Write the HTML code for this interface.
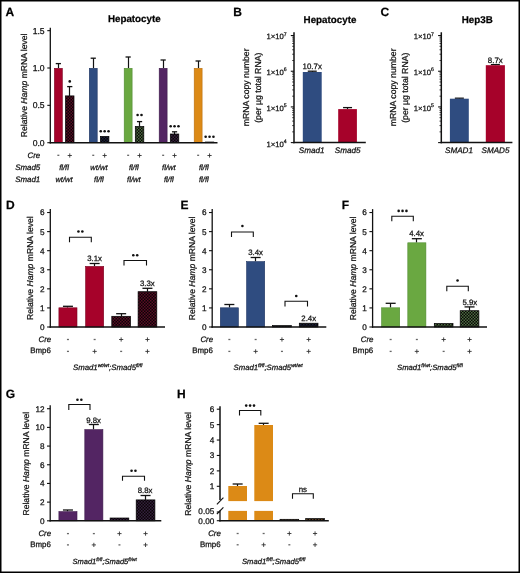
<!DOCTYPE html>
<html><head><meta charset="utf-8"><style>
html,body{margin:0;padding:0;background:#fff;}
svg{display:block;font-family:"Liberation Sans", sans-serif;font-variant-ligatures:none;will-change:transform;}
#w{width:520px;height:573px;overflow:hidden;}
text{stroke:#111;stroke-width:0.25px;text-rendering:geometricPrecision;}
tspan.s{stroke-width:0;}
</style></head><body><div id="w">
<svg width="520" height="573" viewBox="0 0 520 573">
<rect width="520" height="573" fill="#fff"/>
<defs>
<pattern id="hred" width="3" height="3" patternUnits="userSpaceOnUse"><rect width="3" height="3" fill="#0a0406"/><rect x="0" y="0" width="1.5" height="1.5" fill="#5a0c24"/><rect x="1.5" y="1.5" width="1.5" height="1.5" fill="#5a0c24"/></pattern>
<pattern id="hblue" width="3" height="3" patternUnits="userSpaceOnUse"><rect width="3" height="3" fill="#0a0406"/><rect x="0" y="0" width="1.5" height="1.5" fill="#16203a"/><rect x="1.5" y="1.5" width="1.5" height="1.5" fill="#16203a"/></pattern>
<pattern id="hgreen" width="3" height="3" patternUnits="userSpaceOnUse"><rect width="3" height="3" fill="#0a0406"/><rect x="0" y="0" width="1.5" height="1.5" fill="#4a6e40"/><rect x="1.5" y="1.5" width="1.5" height="1.5" fill="#4a6e40"/></pattern>
<pattern id="hpurple" width="3" height="3" patternUnits="userSpaceOnUse"><rect width="3" height="3" fill="#0a0406"/><rect x="0" y="0" width="1.5" height="1.5" fill="#33203e"/><rect x="1.5" y="1.5" width="1.5" height="1.5" fill="#33203e"/></pattern>
<pattern id="horange" width="3" height="3" patternUnits="userSpaceOnUse"><rect width="3" height="3" fill="#0a0406"/><rect x="0" y="0" width="1.5" height="1.5" fill="#5a4020"/><rect x="1.5" y="1.5" width="1.5" height="1.5" fill="#5a4020"/></pattern>
</defs>
<rect x="0.75" y="0.75" width="518.5" height="571.5" fill="none" stroke="#000" stroke-width="1.5"/>
<text x="5.50" y="15.70" font-size="12" text-anchor="start" font-weight="bold" font-style="normal" fill="#000" >A</text>
<text x="233.30" y="15.70" font-size="12" text-anchor="start" font-weight="bold" font-style="normal" fill="#000" >B</text>
<text x="380.50" y="15.60" font-size="12" text-anchor="start" font-weight="bold" font-style="normal" fill="#000" >C</text>
<text x="6.10" y="208.80" font-size="12" text-anchor="start" font-weight="bold" font-style="normal" fill="#000" >D</text>
<text x="180.40" y="208.80" font-size="12" text-anchor="start" font-weight="bold" font-style="normal" fill="#000" >E</text>
<text x="341.80" y="208.90" font-size="12" text-anchor="start" font-weight="bold" font-style="normal" fill="#000" >F</text>
<text x="5.80" y="397.60" font-size="12" text-anchor="start" font-weight="bold" font-style="normal" fill="#000" >G</text>
<text x="177.00" y="398.20" font-size="12" text-anchor="start" font-weight="bold" font-style="normal" fill="#000" >H</text>
<text x="134.30" y="22.40" font-size="9.8" text-anchor="middle" font-weight="bold" font-style="normal" fill="#000" >Hepatocyte</text>
<line x1="50.30" y1="27.75" x2="50.30" y2="143.40" stroke="#111" stroke-width="1.3"/>
<line x1="47.30" y1="142.70" x2="50.30" y2="142.70" stroke="#111" stroke-width="1.1"/>
<text x="44.60" y="145.80" font-size="8.6" text-anchor="end" font-weight="normal" font-style="normal" fill="#111" >0.0</text>
<line x1="47.30" y1="105.35" x2="50.30" y2="105.35" stroke="#111" stroke-width="1.1"/>
<text x="44.60" y="108.45" font-size="8.6" text-anchor="end" font-weight="normal" font-style="normal" fill="#111" >0.5</text>
<line x1="47.30" y1="68.00" x2="50.30" y2="68.00" stroke="#111" stroke-width="1.1"/>
<text x="44.60" y="71.10" font-size="8.6" text-anchor="end" font-weight="normal" font-style="normal" fill="#111" >1.0</text>
<line x1="47.30" y1="30.65" x2="50.30" y2="30.65" stroke="#111" stroke-width="1.1"/>
<text x="44.60" y="33.75" font-size="8.6" text-anchor="end" font-weight="normal" font-style="normal" fill="#111" >1.5</text>
<text transform="translate(27.00,85.30) rotate(-90)" font-size="8.6" text-anchor="middle" fill="#111">Relative <tspan font-style="italic">Hamp</tspan> mRNA level</text>
<line x1="58.50" y1="68.00" x2="58.50" y2="63.60" stroke="#111" stroke-width="1.2"/>
<line x1="55.75" y1="63.60" x2="60.95" y2="63.60" stroke="#111" stroke-width="1.3"/>
<rect x="54.40" y="68.30" width="7.90" height="74.40" fill="#a6022a" stroke="#7a0420" stroke-width="0.6"/>
<line x1="69.50" y1="95.90" x2="69.50" y2="86.60" stroke="#111" stroke-width="1.2"/>
<line x1="67.15" y1="86.60" x2="72.35" y2="86.60" stroke="#111" stroke-width="1.3"/>
<rect x="65.50" y="95.90" width="8.50" height="46.80" fill="url(#hred)" stroke="#000" stroke-width="0.7"/>
<circle cx="69.75" cy="81.40" r="1.3" fill="#111"/>
<line x1="93.50" y1="68.00" x2="93.50" y2="58.20" stroke="#111" stroke-width="1.2"/>
<line x1="90.65" y1="58.20" x2="95.85" y2="58.20" stroke="#111" stroke-width="1.3"/>
<rect x="89.30" y="68.30" width="7.90" height="74.40" fill="#2f4c80" stroke="#1f3562" stroke-width="0.6"/>
<rect x="100.40" y="136.40" width="8.50" height="6.30" fill="url(#hblue)" stroke="#000" stroke-width="0.7"/>
<circle cx="100.75" cy="131.20" r="1.3" fill="#111"/>
<circle cx="104.65" cy="131.20" r="1.3" fill="#111"/>
<circle cx="108.55" cy="131.20" r="1.3" fill="#111"/>
<line x1="128.50" y1="68.00" x2="128.50" y2="57.00" stroke="#111" stroke-width="1.2"/>
<line x1="125.55" y1="57.00" x2="130.75" y2="57.00" stroke="#111" stroke-width="1.3"/>
<rect x="124.20" y="68.30" width="7.90" height="74.40" fill="#6aa841" stroke="#4f8a30" stroke-width="0.6"/>
<line x1="139.50" y1="126.50" x2="139.50" y2="121.60" stroke="#111" stroke-width="1.2"/>
<line x1="136.95" y1="121.60" x2="142.15" y2="121.60" stroke="#111" stroke-width="1.3"/>
<rect x="135.30" y="126.50" width="8.50" height="16.20" fill="url(#hgreen)" stroke="#000" stroke-width="0.7"/>
<circle cx="137.60" cy="115.00" r="1.3" fill="#111"/>
<circle cx="141.50" cy="115.00" r="1.3" fill="#111"/>
<line x1="163.50" y1="68.00" x2="163.50" y2="60.00" stroke="#111" stroke-width="1.2"/>
<line x1="160.55" y1="60.00" x2="165.75" y2="60.00" stroke="#111" stroke-width="1.3"/>
<rect x="159.20" y="68.30" width="7.90" height="74.40" fill="#532563" stroke="#3c1a4a" stroke-width="0.6"/>
<line x1="174.50" y1="134.00" x2="174.50" y2="131.80" stroke="#111" stroke-width="1.2"/>
<line x1="171.95" y1="131.80" x2="177.15" y2="131.80" stroke="#111" stroke-width="1.3"/>
<rect x="170.30" y="134.00" width="8.50" height="8.70" fill="url(#hpurple)" stroke="#000" stroke-width="0.7"/>
<circle cx="170.65" cy="126.20" r="1.3" fill="#111"/>
<circle cx="174.55" cy="126.20" r="1.3" fill="#111"/>
<circle cx="178.45" cy="126.20" r="1.3" fill="#111"/>
<line x1="198.50" y1="68.00" x2="198.50" y2="61.00" stroke="#111" stroke-width="1.2"/>
<line x1="195.55" y1="61.00" x2="200.75" y2="61.00" stroke="#111" stroke-width="1.3"/>
<rect x="194.20" y="68.30" width="7.90" height="74.40" fill="#dc8a16" stroke="#b86e10" stroke-width="0.6"/>
<rect x="205.30" y="142.00" width="8.50" height="0.70" fill="url(#horange)" stroke="#000" stroke-width="0.7"/>
<circle cx="205.65" cy="136.80" r="1.3" fill="#111"/>
<circle cx="209.55" cy="136.80" r="1.3" fill="#111"/>
<circle cx="213.45" cy="136.80" r="1.3" fill="#111"/>
<line x1="49.70" y1="142.70" x2="217.50" y2="142.70" stroke="#111" stroke-width="1.5"/>
<text x="40.20" y="158.10" font-size="7.9" text-anchor="end" font-weight="normal" font-style="italic" fill="#111" >Cre</text>
<text x="40.20" y="169.80" font-size="7.9" text-anchor="end" font-weight="normal" font-style="italic" fill="#111" >Smad5</text>
<text x="40.20" y="181.80" font-size="7.9" text-anchor="end" font-weight="normal" font-style="italic" fill="#111" >Smad1</text>
<rect x="57.35" y="154.65" width="2.0" height="1.3" fill="#666"/>
<path d="M67.65 155.50H71.85M69.75 153.40V157.60" stroke="#333" stroke-width="0.9" fill="none"/>
<text x="64.05" y="169.80" font-size="7.6" text-anchor="middle" font-weight="normal" font-style="italic" fill="#111" >fl/fl</text>
<text x="64.05" y="181.80" font-size="7.6" text-anchor="middle" font-weight="normal" font-style="italic" fill="#111" >wt/wt</text>
<rect x="92.25" y="154.65" width="2.0" height="1.3" fill="#666"/>
<path d="M102.55 155.50H106.75M104.65 153.40V157.60" stroke="#333" stroke-width="0.9" fill="none"/>
<text x="98.95" y="169.80" font-size="7.6" text-anchor="middle" font-weight="normal" font-style="italic" fill="#111" >wt/wt</text>
<text x="98.95" y="181.80" font-size="7.6" text-anchor="middle" font-weight="normal" font-style="italic" fill="#111" >fl/fl</text>
<rect x="127.15" y="154.65" width="2.0" height="1.3" fill="#666"/>
<path d="M137.45 155.50H141.65M139.55 153.40V157.60" stroke="#333" stroke-width="0.9" fill="none"/>
<text x="133.85" y="169.80" font-size="7.6" text-anchor="middle" font-weight="normal" font-style="italic" fill="#111" >fl/fl</text>
<text x="133.85" y="181.80" font-size="7.6" text-anchor="middle" font-weight="normal" font-style="italic" fill="#111" >fl/wt</text>
<rect x="162.15" y="154.65" width="2.0" height="1.3" fill="#666"/>
<path d="M172.45 155.50H176.65M174.55 153.40V157.60" stroke="#333" stroke-width="0.9" fill="none"/>
<text x="168.85" y="169.80" font-size="7.6" text-anchor="middle" font-weight="normal" font-style="italic" fill="#111" >fl/wt</text>
<text x="168.85" y="181.80" font-size="7.6" text-anchor="middle" font-weight="normal" font-style="italic" fill="#111" >fl/fl</text>
<rect x="197.15" y="154.65" width="2.0" height="1.3" fill="#666"/>
<path d="M207.45 155.50H211.65M209.55 153.40V157.60" stroke="#333" stroke-width="0.9" fill="none"/>
<text x="203.85" y="169.80" font-size="7.6" text-anchor="middle" font-weight="normal" font-style="italic" fill="#111" >fl/fl</text>
<text x="203.85" y="181.80" font-size="7.6" text-anchor="middle" font-weight="normal" font-style="italic" fill="#111" >fl/fl</text>
<text x="330.00" y="22.80" font-size="9.8" text-anchor="middle" font-weight="bold" font-style="normal" fill="#000" >Hepatocyte</text>
<line x1="294.00" y1="32.26" x2="294.00" y2="143.30" stroke="#111" stroke-width="1.5"/>
<line x1="290.80" y1="142.60" x2="294.00" y2="142.60" stroke="#111" stroke-width="1.1"/>
<text x="286.70" y="146.50" font-size="7.7" text-anchor="end" fill="#111">1×10<tspan font-size="5.2" dy="-3.7">4</tspan></text>
<line x1="292.20" y1="131.86" x2="294.00" y2="131.86" stroke="#111" stroke-width="0.8"/>
<line x1="292.20" y1="125.58" x2="294.00" y2="125.58" stroke="#111" stroke-width="0.8"/>
<line x1="292.20" y1="121.12" x2="294.00" y2="121.12" stroke="#111" stroke-width="0.8"/>
<line x1="292.20" y1="117.66" x2="294.00" y2="117.66" stroke="#111" stroke-width="0.8"/>
<line x1="292.20" y1="114.84" x2="294.00" y2="114.84" stroke="#111" stroke-width="0.8"/>
<line x1="292.20" y1="112.45" x2="294.00" y2="112.45" stroke="#111" stroke-width="0.8"/>
<line x1="292.20" y1="110.38" x2="294.00" y2="110.38" stroke="#111" stroke-width="0.8"/>
<line x1="292.20" y1="108.55" x2="294.00" y2="108.55" stroke="#111" stroke-width="0.8"/>
<line x1="290.80" y1="106.92" x2="294.00" y2="106.92" stroke="#111" stroke-width="1.1"/>
<text x="286.70" y="110.82" font-size="7.7" text-anchor="end" fill="#111">1×10<tspan font-size="5.2" dy="-3.7">5</tspan></text>
<line x1="292.20" y1="96.18" x2="294.00" y2="96.18" stroke="#111" stroke-width="0.8"/>
<line x1="292.20" y1="89.90" x2="294.00" y2="89.90" stroke="#111" stroke-width="0.8"/>
<line x1="292.20" y1="85.44" x2="294.00" y2="85.44" stroke="#111" stroke-width="0.8"/>
<line x1="292.20" y1="81.98" x2="294.00" y2="81.98" stroke="#111" stroke-width="0.8"/>
<line x1="292.20" y1="79.16" x2="294.00" y2="79.16" stroke="#111" stroke-width="0.8"/>
<line x1="292.20" y1="76.77" x2="294.00" y2="76.77" stroke="#111" stroke-width="0.8"/>
<line x1="292.20" y1="74.70" x2="294.00" y2="74.70" stroke="#111" stroke-width="0.8"/>
<line x1="292.20" y1="72.87" x2="294.00" y2="72.87" stroke="#111" stroke-width="0.8"/>
<line x1="290.80" y1="71.24" x2="294.00" y2="71.24" stroke="#111" stroke-width="1.1"/>
<text x="286.70" y="75.14" font-size="7.7" text-anchor="end" fill="#111">1×10<tspan font-size="5.2" dy="-3.7">6</tspan></text>
<line x1="292.20" y1="60.50" x2="294.00" y2="60.50" stroke="#111" stroke-width="0.8"/>
<line x1="292.20" y1="54.22" x2="294.00" y2="54.22" stroke="#111" stroke-width="0.8"/>
<line x1="292.20" y1="49.76" x2="294.00" y2="49.76" stroke="#111" stroke-width="0.8"/>
<line x1="292.20" y1="46.30" x2="294.00" y2="46.30" stroke="#111" stroke-width="0.8"/>
<line x1="292.20" y1="43.48" x2="294.00" y2="43.48" stroke="#111" stroke-width="0.8"/>
<line x1="292.20" y1="41.09" x2="294.00" y2="41.09" stroke="#111" stroke-width="0.8"/>
<line x1="292.20" y1="39.02" x2="294.00" y2="39.02" stroke="#111" stroke-width="0.8"/>
<line x1="292.20" y1="37.19" x2="294.00" y2="37.19" stroke="#111" stroke-width="0.8"/>
<line x1="290.80" y1="35.56" x2="294.00" y2="35.56" stroke="#111" stroke-width="1.1"/>
<text x="286.70" y="39.46" font-size="7.7" text-anchor="end" fill="#111">1×10<tspan font-size="5.2" dy="-3.7">7</tspan></text>
<line x1="312.50" y1="72.00" x2="312.50" y2="71.20" stroke="#111" stroke-width="1.2"/>
<line x1="307.75" y1="71.20" x2="316.75" y2="71.20" stroke="#111" stroke-width="1.3"/>
<rect x="302.80" y="72.00" width="18.90" height="70.60" fill="#2f4c80"/>
<line x1="347.50" y1="109.10" x2="347.50" y2="107.60" stroke="#111" stroke-width="1.2"/>
<line x1="343.05" y1="107.60" x2="352.05" y2="107.60" stroke="#111" stroke-width="1.3"/>
<rect x="338.20" y="109.10" width="18.70" height="33.50" fill="#a6022a"/>
<line x1="293.30" y1="142.60" x2="365.80" y2="142.60" stroke="#111" stroke-width="1.5"/>
<text x="311.60" y="152.80" font-size="8.1" text-anchor="middle" font-weight="normal" font-style="italic" fill="#111" >Smad1</text>
<text x="347.60" y="152.80" font-size="8.1" text-anchor="middle" font-weight="normal" font-style="italic" fill="#111" >Smad5</text>
<text x="312.20" y="69.40" font-size="7.9" text-anchor="middle" font-weight="normal" font-style="normal" fill="#111" >10.7x</text>
<text transform="translate(248.95,87.35) rotate(-90)" font-size="8.7" text-anchor="middle" fill="#111"><tspan x="0" dy="0">mRNA copy number</tspan><tspan x="-0.4" dy="12.0">(per µg total RNA)</tspan></text>
<text x="477.30" y="22.80" font-size="9.8" text-anchor="middle" font-weight="bold" font-style="normal" fill="#000" >Hep3B</text>
<line x1="441.30" y1="32.26" x2="441.30" y2="143.30" stroke="#111" stroke-width="1.5"/>
<line x1="438.10" y1="142.60" x2="441.30" y2="142.60" stroke="#111" stroke-width="1.1"/>
<line x1="439.50" y1="131.86" x2="441.30" y2="131.86" stroke="#111" stroke-width="0.8"/>
<line x1="439.50" y1="125.58" x2="441.30" y2="125.58" stroke="#111" stroke-width="0.8"/>
<line x1="439.50" y1="121.12" x2="441.30" y2="121.12" stroke="#111" stroke-width="0.8"/>
<line x1="439.50" y1="117.66" x2="441.30" y2="117.66" stroke="#111" stroke-width="0.8"/>
<line x1="439.50" y1="114.84" x2="441.30" y2="114.84" stroke="#111" stroke-width="0.8"/>
<line x1="439.50" y1="112.45" x2="441.30" y2="112.45" stroke="#111" stroke-width="0.8"/>
<line x1="439.50" y1="110.38" x2="441.30" y2="110.38" stroke="#111" stroke-width="0.8"/>
<line x1="439.50" y1="108.55" x2="441.30" y2="108.55" stroke="#111" stroke-width="0.8"/>
<line x1="438.10" y1="106.92" x2="441.30" y2="106.92" stroke="#111" stroke-width="1.1"/>
<text x="434.00" y="110.82" font-size="7.7" text-anchor="end" fill="#111">1×10<tspan font-size="5.2" dy="-3.7">5</tspan></text>
<line x1="439.50" y1="96.18" x2="441.30" y2="96.18" stroke="#111" stroke-width="0.8"/>
<line x1="439.50" y1="89.90" x2="441.30" y2="89.90" stroke="#111" stroke-width="0.8"/>
<line x1="439.50" y1="85.44" x2="441.30" y2="85.44" stroke="#111" stroke-width="0.8"/>
<line x1="439.50" y1="81.98" x2="441.30" y2="81.98" stroke="#111" stroke-width="0.8"/>
<line x1="439.50" y1="79.16" x2="441.30" y2="79.16" stroke="#111" stroke-width="0.8"/>
<line x1="439.50" y1="76.77" x2="441.30" y2="76.77" stroke="#111" stroke-width="0.8"/>
<line x1="439.50" y1="74.70" x2="441.30" y2="74.70" stroke="#111" stroke-width="0.8"/>
<line x1="439.50" y1="72.87" x2="441.30" y2="72.87" stroke="#111" stroke-width="0.8"/>
<line x1="438.10" y1="71.24" x2="441.30" y2="71.24" stroke="#111" stroke-width="1.1"/>
<text x="434.00" y="75.14" font-size="7.7" text-anchor="end" fill="#111">1×10<tspan font-size="5.2" dy="-3.7">6</tspan></text>
<line x1="439.50" y1="60.50" x2="441.30" y2="60.50" stroke="#111" stroke-width="0.8"/>
<line x1="439.50" y1="54.22" x2="441.30" y2="54.22" stroke="#111" stroke-width="0.8"/>
<line x1="439.50" y1="49.76" x2="441.30" y2="49.76" stroke="#111" stroke-width="0.8"/>
<line x1="439.50" y1="46.30" x2="441.30" y2="46.30" stroke="#111" stroke-width="0.8"/>
<line x1="439.50" y1="43.48" x2="441.30" y2="43.48" stroke="#111" stroke-width="0.8"/>
<line x1="439.50" y1="41.09" x2="441.30" y2="41.09" stroke="#111" stroke-width="0.8"/>
<line x1="439.50" y1="39.02" x2="441.30" y2="39.02" stroke="#111" stroke-width="0.8"/>
<line x1="439.50" y1="37.19" x2="441.30" y2="37.19" stroke="#111" stroke-width="0.8"/>
<line x1="438.10" y1="35.56" x2="441.30" y2="35.56" stroke="#111" stroke-width="1.1"/>
<text x="434.00" y="39.46" font-size="7.7" text-anchor="end" fill="#111">1×10<tspan font-size="5.2" dy="-3.7">7</tspan></text>
<line x1="459.50" y1="98.70" x2="459.50" y2="98.20" stroke="#111" stroke-width="1.2"/>
<line x1="454.85" y1="98.20" x2="463.85" y2="98.20" stroke="#111" stroke-width="1.3"/>
<rect x="449.90" y="98.70" width="18.90" height="43.90" fill="#2f4c80"/>
<line x1="495.50" y1="65.20" x2="495.50" y2="64.60" stroke="#111" stroke-width="1.2"/>
<line x1="490.85" y1="64.60" x2="499.85" y2="64.60" stroke="#111" stroke-width="1.3"/>
<rect x="485.80" y="65.20" width="19.10" height="77.40" fill="#a6022a"/>
<line x1="440.60" y1="142.60" x2="512.40" y2="142.60" stroke="#111" stroke-width="1.5"/>
<text x="459.00" y="152.80" font-size="8.1" text-anchor="middle" font-weight="normal" font-style="italic" fill="#111" >SMAD1</text>
<text x="495.50" y="152.80" font-size="8.1" text-anchor="middle" font-weight="normal" font-style="italic" fill="#111" >SMAD5</text>
<text x="495.30" y="62.50" font-size="7.9" text-anchor="middle" font-weight="normal" font-style="normal" fill="#111" >8.7x</text>
<text transform="translate(396.20,87.35) rotate(-90)" font-size="8.7" text-anchor="middle" fill="#111"><tspan x="0" dy="0">mRNA copy number</tspan><tspan x="-0.4" dy="12.1">(per µg total RNA)</tspan></text>
<line x1="50.30" y1="209.12" x2="50.30" y2="327.70" stroke="#111" stroke-width="1.3"/>
<line x1="47.10" y1="327.00" x2="50.30" y2="327.00" stroke="#111" stroke-width="1.1"/>
<text x="44.60" y="329.95" font-size="8.2" text-anchor="end" font-weight="normal" font-style="normal" fill="#111" >0</text>
<line x1="47.10" y1="307.92" x2="50.30" y2="307.92" stroke="#111" stroke-width="1.1"/>
<text x="44.60" y="310.87" font-size="8.2" text-anchor="end" font-weight="normal" font-style="normal" fill="#111" >1</text>
<line x1="47.10" y1="288.84" x2="50.30" y2="288.84" stroke="#111" stroke-width="1.1"/>
<text x="44.60" y="291.79" font-size="8.2" text-anchor="end" font-weight="normal" font-style="normal" fill="#111" >2</text>
<line x1="47.10" y1="269.76" x2="50.30" y2="269.76" stroke="#111" stroke-width="1.1"/>
<text x="44.60" y="272.71" font-size="8.2" text-anchor="end" font-weight="normal" font-style="normal" fill="#111" >3</text>
<line x1="47.10" y1="250.68" x2="50.30" y2="250.68" stroke="#111" stroke-width="1.1"/>
<text x="44.60" y="253.63" font-size="8.2" text-anchor="end" font-weight="normal" font-style="normal" fill="#111" >4</text>
<line x1="47.10" y1="231.60" x2="50.30" y2="231.60" stroke="#111" stroke-width="1.1"/>
<text x="44.60" y="234.55" font-size="8.2" text-anchor="end" font-weight="normal" font-style="normal" fill="#111" >5</text>
<line x1="47.10" y1="212.52" x2="50.30" y2="212.52" stroke="#111" stroke-width="1.1"/>
<text x="44.60" y="215.47" font-size="8.2" text-anchor="end" font-weight="normal" font-style="normal" fill="#111" >6</text>
<text transform="translate(33.15,268.15) rotate(-90)" font-size="8.6" text-anchor="middle" fill="#111">Relative <tspan font-style="italic">Hamp</tspan> mRNA level</text>
<line x1="67.50" y1="307.50" x2="67.50" y2="306.30" stroke="#111" stroke-width="1.2"/>
<line x1="62.95" y1="306.30" x2="72.95" y2="306.30" stroke="#111" stroke-width="1.3"/>
<rect x="58.90" y="307.80" width="18.10" height="19.20" fill="#a6022a" stroke="#7a0420" stroke-width="0.6"/>
<line x1="94.50" y1="266.10" x2="94.50" y2="263.50" stroke="#111" stroke-width="1.2"/>
<line x1="89.65" y1="263.50" x2="99.65" y2="263.50" stroke="#111" stroke-width="1.3"/>
<rect x="85.60" y="266.40" width="18.10" height="60.60" fill="#a6022a" stroke="#7a0420" stroke-width="0.6"/>
<line x1="121.50" y1="316.30" x2="121.50" y2="313.70" stroke="#111" stroke-width="1.2"/>
<line x1="116.15" y1="313.70" x2="126.15" y2="313.70" stroke="#111" stroke-width="1.3"/>
<rect x="111.80" y="316.30" width="18.70" height="10.70" fill="url(#hred)" stroke="#000" stroke-width="0.7"/>
<line x1="147.50" y1="291.70" x2="147.50" y2="288.30" stroke="#111" stroke-width="1.2"/>
<line x1="142.45" y1="288.30" x2="152.45" y2="288.30" stroke="#111" stroke-width="1.3"/>
<rect x="138.10" y="291.70" width="18.70" height="35.30" fill="url(#hred)" stroke="#000" stroke-width="0.7"/>
<line x1="49.60" y1="327.00" x2="165.00" y2="327.00" stroke="#111" stroke-width="1.6"/>
<path d="M69.50 242.30 V237.30 H91.30 V242.30" fill="none" stroke="#111" stroke-width="1.1"/>
<circle cx="78.45" cy="231.50" r="1.3" fill="#111"/>
<circle cx="82.35" cy="231.50" r="1.3" fill="#111"/>
<path d="M124.00 265.50 V260.50 H146.50 V265.50" fill="none" stroke="#111" stroke-width="1.1"/>
<circle cx="133.30" cy="255.20" r="1.3" fill="#111"/>
<circle cx="137.20" cy="255.20" r="1.3" fill="#111"/>
<text x="94.60" y="261.00" font-size="7.8" text-anchor="middle" font-weight="normal" font-style="normal" fill="#111" >3.1x</text>
<text x="147.40" y="285.60" font-size="7.8" text-anchor="middle" font-weight="normal" font-style="normal" fill="#111" >3.3x</text>
<text x="51.20" y="341.60" font-size="7.9" text-anchor="end" font-weight="normal" font-style="italic" fill="#111" >Cre</text>
<text x="50.90" y="353.40" font-size="7.9" text-anchor="end" font-weight="normal" font-style="normal" fill="#111" >Bmp6</text>
<rect x="66.95" y="338.85" width="2.0" height="1.3" fill="#666"/>
<rect x="66.95" y="350.75" width="2.0" height="1.3" fill="#666"/>
<rect x="93.65" y="338.85" width="2.0" height="1.3" fill="#666"/>
<path d="M92.55 351.40H96.75M94.65 349.30V353.50" stroke="#333" stroke-width="0.9" fill="none"/>
<path d="M119.05 339.50H123.25M121.15 337.40V341.60" stroke="#333" stroke-width="0.9" fill="none"/>
<rect x="120.15" y="350.75" width="2.0" height="1.3" fill="#666"/>
<path d="M145.35 339.50H149.55M147.45 337.40V341.60" stroke="#333" stroke-width="0.9" fill="none"/>
<path d="M145.35 351.40H149.55M147.45 349.30V353.50" stroke="#333" stroke-width="0.9" fill="none"/>
<text x="73.00" y="370.40" font-size="7.8" font-style="italic" fill="#111">Smad1<tspan font-size="5.0" dy="-3.2">wt/wt</tspan><tspan dy="3.2">;Smad5</tspan><tspan font-size="5.0" dy="-3.2">fl/fl</tspan></text>
<line x1="212.20" y1="209.12" x2="212.20" y2="327.70" stroke="#111" stroke-width="1.3"/>
<line x1="209.00" y1="327.00" x2="212.20" y2="327.00" stroke="#111" stroke-width="1.1"/>
<text x="206.50" y="329.95" font-size="8.2" text-anchor="end" font-weight="normal" font-style="normal" fill="#111" >0</text>
<line x1="209.00" y1="307.92" x2="212.20" y2="307.92" stroke="#111" stroke-width="1.1"/>
<text x="206.50" y="310.87" font-size="8.2" text-anchor="end" font-weight="normal" font-style="normal" fill="#111" >1</text>
<line x1="209.00" y1="288.84" x2="212.20" y2="288.84" stroke="#111" stroke-width="1.1"/>
<text x="206.50" y="291.79" font-size="8.2" text-anchor="end" font-weight="normal" font-style="normal" fill="#111" >2</text>
<line x1="209.00" y1="269.76" x2="212.20" y2="269.76" stroke="#111" stroke-width="1.1"/>
<text x="206.50" y="272.71" font-size="8.2" text-anchor="end" font-weight="normal" font-style="normal" fill="#111" >3</text>
<line x1="209.00" y1="250.68" x2="212.20" y2="250.68" stroke="#111" stroke-width="1.1"/>
<text x="206.50" y="253.63" font-size="8.2" text-anchor="end" font-weight="normal" font-style="normal" fill="#111" >4</text>
<line x1="209.00" y1="231.60" x2="212.20" y2="231.60" stroke="#111" stroke-width="1.1"/>
<text x="206.50" y="234.55" font-size="8.2" text-anchor="end" font-weight="normal" font-style="normal" fill="#111" >5</text>
<line x1="209.00" y1="212.52" x2="212.20" y2="212.52" stroke="#111" stroke-width="1.1"/>
<text x="206.50" y="215.47" font-size="8.2" text-anchor="end" font-weight="normal" font-style="normal" fill="#111" >6</text>
<text transform="translate(194.80,268.30) rotate(-90)" font-size="8.6" text-anchor="middle" fill="#111">Relative <tspan font-style="italic">Hamp</tspan> mRNA level</text>
<line x1="229.50" y1="307.50" x2="229.50" y2="304.50" stroke="#111" stroke-width="1.2"/>
<line x1="224.35" y1="304.50" x2="234.35" y2="304.50" stroke="#111" stroke-width="1.3"/>
<rect x="220.30" y="307.80" width="18.10" height="19.20" fill="#2f4c80" stroke="#1f3562" stroke-width="0.6"/>
<line x1="255.50" y1="261.30" x2="255.50" y2="257.50" stroke="#111" stroke-width="1.2"/>
<line x1="250.65" y1="257.50" x2="260.65" y2="257.50" stroke="#111" stroke-width="1.3"/>
<rect x="246.60" y="261.60" width="18.10" height="65.40" fill="#2f4c80" stroke="#1f3562" stroke-width="0.6"/>
<rect x="272.60" y="325.60" width="18.70" height="1.40" fill="url(#hblue)" stroke="#000" stroke-width="0.7"/>
<rect x="299.30" y="323.20" width="18.70" height="3.80" fill="url(#hblue)" stroke="#000" stroke-width="0.7"/>
<line x1="211.50" y1="327.00" x2="326.30" y2="327.00" stroke="#111" stroke-width="1.6"/>
<path d="M231.50 237.00 V232.00 H253.30 V237.00" fill="none" stroke="#111" stroke-width="1.1"/>
<circle cx="242.40" cy="226.00" r="1.3" fill="#111"/>
<path d="M285.00 306.50 V301.30 H307.50 V306.50" fill="none" stroke="#111" stroke-width="1.1"/>
<circle cx="296.25" cy="296.00" r="1.3" fill="#111"/>
<text x="255.60" y="255.10" font-size="7.8" text-anchor="middle" font-weight="normal" font-style="normal" fill="#111" >3.4x</text>
<text x="308.70" y="321.00" font-size="7.8" text-anchor="middle" font-weight="normal" font-style="normal" fill="#111" >2.4x</text>
<text x="213.10" y="341.60" font-size="7.9" text-anchor="end" font-weight="normal" font-style="italic" fill="#111" >Cre</text>
<text x="212.80" y="353.40" font-size="7.9" text-anchor="end" font-weight="normal" font-style="normal" fill="#111" >Bmp6</text>
<rect x="228.35" y="338.85" width="2.0" height="1.3" fill="#666"/>
<rect x="228.35" y="350.75" width="2.0" height="1.3" fill="#666"/>
<rect x="254.65" y="338.85" width="2.0" height="1.3" fill="#666"/>
<path d="M253.55 351.40H257.75M255.65 349.30V353.50" stroke="#333" stroke-width="0.9" fill="none"/>
<path d="M279.85 339.50H284.05M281.95 337.40V341.60" stroke="#333" stroke-width="0.9" fill="none"/>
<rect x="280.95" y="350.75" width="2.0" height="1.3" fill="#666"/>
<path d="M306.55 339.50H310.75M308.65 337.40V341.60" stroke="#333" stroke-width="0.9" fill="none"/>
<path d="M306.55 351.40H310.75M308.65 349.30V353.50" stroke="#333" stroke-width="0.9" fill="none"/>
<text x="233.50" y="370.40" font-size="7.75" font-style="italic" fill="#111">Smad1<tspan font-size="5.0" dy="-3.2">fl/fl</tspan><tspan dy="3.2">;Smad5</tspan><tspan font-size="5.0" dy="-3.2">wt/wt</tspan></text>
<line x1="372.60" y1="209.12" x2="372.60" y2="327.70" stroke="#111" stroke-width="1.3"/>
<line x1="369.40" y1="327.00" x2="372.60" y2="327.00" stroke="#111" stroke-width="1.1"/>
<text x="366.90" y="329.95" font-size="8.2" text-anchor="end" font-weight="normal" font-style="normal" fill="#111" >0</text>
<line x1="369.40" y1="307.92" x2="372.60" y2="307.92" stroke="#111" stroke-width="1.1"/>
<text x="366.90" y="310.87" font-size="8.2" text-anchor="end" font-weight="normal" font-style="normal" fill="#111" >1</text>
<line x1="369.40" y1="288.84" x2="372.60" y2="288.84" stroke="#111" stroke-width="1.1"/>
<text x="366.90" y="291.79" font-size="8.2" text-anchor="end" font-weight="normal" font-style="normal" fill="#111" >2</text>
<line x1="369.40" y1="269.76" x2="372.60" y2="269.76" stroke="#111" stroke-width="1.1"/>
<text x="366.90" y="272.71" font-size="8.2" text-anchor="end" font-weight="normal" font-style="normal" fill="#111" >3</text>
<line x1="369.40" y1="250.68" x2="372.60" y2="250.68" stroke="#111" stroke-width="1.1"/>
<text x="366.90" y="253.63" font-size="8.2" text-anchor="end" font-weight="normal" font-style="normal" fill="#111" >4</text>
<line x1="369.40" y1="231.60" x2="372.60" y2="231.60" stroke="#111" stroke-width="1.1"/>
<text x="366.90" y="234.55" font-size="8.2" text-anchor="end" font-weight="normal" font-style="normal" fill="#111" >5</text>
<line x1="369.40" y1="212.52" x2="372.60" y2="212.52" stroke="#111" stroke-width="1.1"/>
<text x="366.90" y="215.47" font-size="8.2" text-anchor="end" font-weight="normal" font-style="normal" fill="#111" >6</text>
<text transform="translate(356.20,268.40) rotate(-90)" font-size="8.6" text-anchor="middle" fill="#111">Relative <tspan font-style="italic">Hamp</tspan> mRNA level</text>
<line x1="390.50" y1="307.50" x2="390.50" y2="303.30" stroke="#111" stroke-width="1.2"/>
<line x1="385.65" y1="303.30" x2="395.65" y2="303.30" stroke="#111" stroke-width="1.3"/>
<rect x="381.60" y="307.80" width="18.10" height="19.20" fill="#6aa841" stroke="#4f8a30" stroke-width="0.6"/>
<line x1="416.50" y1="242.50" x2="416.50" y2="238.70" stroke="#111" stroke-width="1.2"/>
<line x1="411.85" y1="238.70" x2="421.85" y2="238.70" stroke="#111" stroke-width="1.3"/>
<rect x="407.80" y="242.80" width="18.10" height="84.20" fill="#6aa841" stroke="#4f8a30" stroke-width="0.6"/>
<rect x="434.30" y="323.50" width="18.70" height="3.50" fill="url(#hgreen)" stroke="#000" stroke-width="0.7"/>
<line x1="469.50" y1="310.70" x2="469.50" y2="306.90" stroke="#111" stroke-width="1.2"/>
<line x1="464.55" y1="306.90" x2="474.55" y2="306.90" stroke="#111" stroke-width="1.3"/>
<rect x="460.20" y="310.70" width="18.70" height="16.30" fill="url(#hgreen)" stroke="#000" stroke-width="0.7"/>
<line x1="371.90" y1="327.00" x2="487.00" y2="327.00" stroke="#111" stroke-width="1.6"/>
<path d="M391.80 221.30 V216.30 H413.30 V221.30" fill="none" stroke="#111" stroke-width="1.1"/>
<circle cx="398.65" cy="210.90" r="1.3" fill="#111"/>
<circle cx="402.55" cy="210.90" r="1.3" fill="#111"/>
<circle cx="406.45" cy="210.90" r="1.3" fill="#111"/>
<path d="M446.80 291.30 V286.30 H468.30 V291.30" fill="none" stroke="#111" stroke-width="1.1"/>
<circle cx="457.55" cy="280.50" r="1.3" fill="#111"/>
<text x="416.60" y="235.75" font-size="7.8" text-anchor="middle" font-weight="normal" font-style="normal" fill="#111" >4.4x</text>
<text x="469.80" y="304.50" font-size="7.8" text-anchor="middle" font-weight="normal" font-style="normal" fill="#111" >5.9x</text>
<text x="373.50" y="341.60" font-size="7.9" text-anchor="end" font-weight="normal" font-style="italic" fill="#111" >Cre</text>
<text x="373.20" y="353.40" font-size="7.9" text-anchor="end" font-weight="normal" font-style="normal" fill="#111" >Bmp6</text>
<rect x="389.65" y="338.85" width="2.0" height="1.3" fill="#666"/>
<rect x="389.65" y="350.75" width="2.0" height="1.3" fill="#666"/>
<rect x="415.85" y="338.85" width="2.0" height="1.3" fill="#666"/>
<path d="M414.75 351.40H418.95M416.85 349.30V353.50" stroke="#333" stroke-width="0.9" fill="none"/>
<path d="M441.55 339.50H445.75M443.65 337.40V341.60" stroke="#333" stroke-width="0.9" fill="none"/>
<rect x="442.65" y="350.75" width="2.0" height="1.3" fill="#666"/>
<path d="M467.45 339.50H471.65M469.55 337.40V341.60" stroke="#333" stroke-width="0.9" fill="none"/>
<path d="M467.45 351.40H471.65M469.55 349.30V353.50" stroke="#333" stroke-width="0.9" fill="none"/>
<text x="397.00" y="370.40" font-size="7.7" font-style="italic" fill="#111">Smad1<tspan font-size="4.9" dy="-3.2">fl/wt</tspan><tspan dy="3.2">;Smad5</tspan><tspan font-size="4.9" dy="-3.2">fl/fl</tspan></text>
<line x1="50.20" y1="405.32" x2="50.20" y2="521.50" stroke="#111" stroke-width="1.3"/>
<line x1="47.00" y1="520.80" x2="50.20" y2="520.80" stroke="#111" stroke-width="1.1"/>
<text x="44.50" y="523.75" font-size="8.2" text-anchor="end" font-weight="normal" font-style="normal" fill="#111" >0</text>
<line x1="47.00" y1="502.12" x2="50.20" y2="502.12" stroke="#111" stroke-width="1.1"/>
<text x="44.50" y="505.07" font-size="8.2" text-anchor="end" font-weight="normal" font-style="normal" fill="#111" >2</text>
<line x1="47.00" y1="483.44" x2="50.20" y2="483.44" stroke="#111" stroke-width="1.1"/>
<text x="44.50" y="486.39" font-size="8.2" text-anchor="end" font-weight="normal" font-style="normal" fill="#111" >4</text>
<line x1="47.00" y1="464.76" x2="50.20" y2="464.76" stroke="#111" stroke-width="1.1"/>
<text x="44.50" y="467.71" font-size="8.2" text-anchor="end" font-weight="normal" font-style="normal" fill="#111" >6</text>
<line x1="47.00" y1="446.08" x2="50.20" y2="446.08" stroke="#111" stroke-width="1.1"/>
<text x="44.50" y="449.03" font-size="8.2" text-anchor="end" font-weight="normal" font-style="normal" fill="#111" >8</text>
<line x1="47.00" y1="427.40" x2="50.20" y2="427.40" stroke="#111" stroke-width="1.1"/>
<text x="44.50" y="430.35" font-size="8.2" text-anchor="end" font-weight="normal" font-style="normal" fill="#111" >10</text>
<line x1="47.00" y1="408.72" x2="50.20" y2="408.72" stroke="#111" stroke-width="1.1"/>
<text x="44.50" y="411.67" font-size="8.2" text-anchor="end" font-weight="normal" font-style="normal" fill="#111" >12</text>
<text transform="translate(29.10,463.70) rotate(-90)" font-size="8.6" text-anchor="middle" fill="#111">Relative <tspan font-style="italic">Hamp</tspan> mRNA level</text>
<line x1="67.50" y1="511.30" x2="67.50" y2="510.00" stroke="#111" stroke-width="1.2"/>
<line x1="62.95" y1="510.00" x2="72.95" y2="510.00" stroke="#111" stroke-width="1.3"/>
<rect x="58.90" y="511.60" width="18.10" height="9.20" fill="#532563" stroke="#3c1a4a" stroke-width="0.6"/>
<line x1="93.50" y1="429.30" x2="93.50" y2="424.50" stroke="#111" stroke-width="1.2"/>
<line x1="88.85" y1="424.50" x2="98.85" y2="424.50" stroke="#111" stroke-width="1.3"/>
<rect x="84.80" y="429.60" width="18.10" height="91.20" fill="#532563" stroke="#3c1a4a" stroke-width="0.6"/>
<rect x="110.10" y="518.00" width="18.70" height="2.80" fill="url(#hpurple)" stroke="#000" stroke-width="0.7"/>
<line x1="145.50" y1="499.90" x2="145.50" y2="495.50" stroke="#111" stroke-width="1.2"/>
<line x1="140.55" y1="495.50" x2="150.55" y2="495.50" stroke="#111" stroke-width="1.3"/>
<rect x="136.20" y="499.90" width="18.70" height="20.90" fill="url(#hpurple)" stroke="#000" stroke-width="0.7"/>
<line x1="49.50" y1="520.80" x2="161.30" y2="520.80" stroke="#111" stroke-width="1.6"/>
<path d="M68.80 410.00 V404.50 H90.00 V410.00" fill="none" stroke="#111" stroke-width="1.1"/>
<circle cx="77.45" cy="399.80" r="1.3" fill="#111"/>
<circle cx="81.35" cy="399.80" r="1.3" fill="#111"/>
<path d="M122.50 480.80 V476.30 H144.50 V480.80" fill="none" stroke="#111" stroke-width="1.1"/>
<circle cx="131.55" cy="470.80" r="1.3" fill="#111"/>
<circle cx="135.45" cy="470.80" r="1.3" fill="#111"/>
<text x="93.60" y="422.50" font-size="7.8" text-anchor="middle" font-weight="normal" font-style="normal" fill="#111" >9.8x</text>
<text x="145.10" y="492.50" font-size="7.8" text-anchor="middle" font-weight="normal" font-style="normal" fill="#111" >8.8x</text>
<text x="51.10" y="535.70" font-size="7.9" text-anchor="end" font-weight="normal" font-style="italic" fill="#111" >Cre</text>
<text x="50.80" y="546.90" font-size="7.9" text-anchor="end" font-weight="normal" font-style="normal" fill="#111" >Bmp6</text>
<rect x="66.95" y="532.95" width="2.0" height="1.3" fill="#666"/>
<rect x="66.95" y="544.25" width="2.0" height="1.3" fill="#666"/>
<rect x="92.85" y="532.95" width="2.0" height="1.3" fill="#666"/>
<path d="M91.75 544.90H95.95M93.85 542.80V547.00" stroke="#333" stroke-width="0.9" fill="none"/>
<path d="M117.35 533.60H121.55M119.45 531.50V535.70" stroke="#333" stroke-width="0.9" fill="none"/>
<rect x="118.45" y="544.25" width="2.0" height="1.3" fill="#666"/>
<path d="M143.45 533.60H147.65M145.55 531.50V535.70" stroke="#333" stroke-width="0.9" fill="none"/>
<path d="M143.45 544.90H147.65M145.55 542.80V547.00" stroke="#333" stroke-width="0.9" fill="none"/>
<text x="72.50" y="564.20" font-size="7.5" font-style="italic" fill="#111">Smad1<tspan font-size="4.8" dy="-3.2">fl/fl</tspan><tspan dy="3.2">;Smad5</tspan><tspan font-size="4.8" dy="-3.2">fl/wt</tspan></text>
<line x1="220.00" y1="406.20" x2="220.00" y2="500.00" stroke="#111" stroke-width="1.5"/>
<line x1="216.90" y1="504.30" x2="223.40" y2="497.60" stroke="#111" stroke-width="1.1"/>
<line x1="216.90" y1="514.00" x2="223.40" y2="507.40" stroke="#111" stroke-width="1.1"/>
<line x1="220.00" y1="510.60" x2="220.00" y2="521.40" stroke="#111" stroke-width="1.3"/>
<line x1="216.80" y1="486.30" x2="220.00" y2="486.30" stroke="#111" stroke-width="1.1"/>
<text x="214.30" y="489.25" font-size="8.2" text-anchor="end" font-weight="normal" font-style="normal" fill="#111" >1</text>
<line x1="216.80" y1="470.88" x2="220.00" y2="470.88" stroke="#111" stroke-width="1.1"/>
<text x="214.30" y="473.83" font-size="8.2" text-anchor="end" font-weight="normal" font-style="normal" fill="#111" >2</text>
<line x1="216.80" y1="455.46" x2="220.00" y2="455.46" stroke="#111" stroke-width="1.1"/>
<text x="214.30" y="458.41" font-size="8.2" text-anchor="end" font-weight="normal" font-style="normal" fill="#111" >3</text>
<line x1="216.80" y1="440.04" x2="220.00" y2="440.04" stroke="#111" stroke-width="1.1"/>
<text x="214.30" y="442.99" font-size="8.2" text-anchor="end" font-weight="normal" font-style="normal" fill="#111" >4</text>
<line x1="216.80" y1="424.62" x2="220.00" y2="424.62" stroke="#111" stroke-width="1.1"/>
<text x="214.30" y="427.57" font-size="8.2" text-anchor="end" font-weight="normal" font-style="normal" fill="#111" >5</text>
<line x1="216.80" y1="409.20" x2="220.00" y2="409.20" stroke="#111" stroke-width="1.1"/>
<text x="214.30" y="412.15" font-size="8.2" text-anchor="end" font-weight="normal" font-style="normal" fill="#111" >6</text>
<line x1="216.80" y1="512.00" x2="220.00" y2="512.00" stroke="#111" stroke-width="1.1"/>
<text x="214.30" y="514.35" font-size="8.2" text-anchor="end" font-weight="normal" font-style="normal" fill="#111" >0.05</text>
<line x1="216.80" y1="520.70" x2="220.00" y2="520.70" stroke="#111" stroke-width="1.1"/>
<text x="214.30" y="523.95" font-size="8.2" text-anchor="end" font-weight="normal" font-style="normal" fill="#111" >0.00</text>
<text transform="translate(191.15,463.90) rotate(-90)" font-size="8.6" text-anchor="middle" fill="#111">Relative <tspan font-style="italic">Hamp</tspan> mRNA level</text>
<line x1="237.50" y1="486.00" x2="237.50" y2="484.00" stroke="#111" stroke-width="1.2"/>
<line x1="232.65" y1="484.00" x2="242.65" y2="484.00" stroke="#111" stroke-width="1.3"/>
<rect x="228.30" y="486.00" width="18.70" height="15.10" fill="#dc8a16"/>
<rect x="228.30" y="510.90" width="18.70" height="9.80" fill="#dc8a16"/>
<line x1="263.50" y1="425.00" x2="263.50" y2="423.30" stroke="#111" stroke-width="1.2"/>
<line x1="258.65" y1="423.30" x2="268.65" y2="423.30" stroke="#111" stroke-width="1.3"/>
<rect x="254.30" y="425.00" width="18.70" height="76.10" fill="#dc8a16"/>
<rect x="254.30" y="510.90" width="18.70" height="9.80" fill="#dc8a16"/>
<rect x="280.00" y="519.30" width="18.70" height="1.40" fill="url(#horange)" stroke="#000" stroke-width="0.7"/>
<rect x="305.70" y="518.60" width="18.70" height="2.10" fill="url(#horange)" stroke="#000" stroke-width="0.7"/>
<line x1="219.30" y1="520.70" x2="328.80" y2="520.70" stroke="#111" stroke-width="1.6"/>
<path d="M239.50 415.50 V410.50 H260.80 V415.50" fill="none" stroke="#111" stroke-width="1.1"/>
<circle cx="246.20" cy="405.60" r="1.3" fill="#111"/>
<circle cx="250.10" cy="405.60" r="1.3" fill="#111"/>
<circle cx="254.00" cy="405.60" r="1.3" fill="#111"/>
<path d="M292.50 498.80 V493.80 H313.30 V498.80" fill="none" stroke="#111" stroke-width="1.1"/>
<text x="302.90" y="492.30" font-size="7.9" text-anchor="middle" font-weight="normal" font-style="normal" fill="#111" >ns</text>
<text x="220.90" y="535.60" font-size="7.9" text-anchor="end" font-weight="normal" font-style="italic" fill="#111" >Cre</text>
<text x="220.60" y="546.80" font-size="7.9" text-anchor="end" font-weight="normal" font-style="normal" fill="#111" >Bmp6</text>
<rect x="236.65" y="532.85" width="2.0" height="1.3" fill="#666"/>
<rect x="236.65" y="544.15" width="2.0" height="1.3" fill="#666"/>
<rect x="262.65" y="532.85" width="2.0" height="1.3" fill="#666"/>
<path d="M261.55 544.80H265.75M263.65 542.70V546.90" stroke="#333" stroke-width="0.9" fill="none"/>
<path d="M287.25 533.50H291.45M289.35 531.40V535.60" stroke="#333" stroke-width="0.9" fill="none"/>
<rect x="288.35" y="544.15" width="2.0" height="1.3" fill="#666"/>
<path d="M312.95 533.50H317.15M315.05 531.40V535.60" stroke="#333" stroke-width="0.9" fill="none"/>
<path d="M312.95 544.80H317.15M315.05 542.70V546.90" stroke="#333" stroke-width="0.9" fill="none"/>
<text x="242.0" y="563.70" font-size="7.65" font-style="italic" fill="#111">Smad1<tspan font-size="5.0" dy="-3.2">fl/fl</tspan><tspan dy="3.2">;Smad5</tspan><tspan font-size="5.0" dy="-3.2">fl/fl</tspan></text>
</svg></div>
</body></html>
